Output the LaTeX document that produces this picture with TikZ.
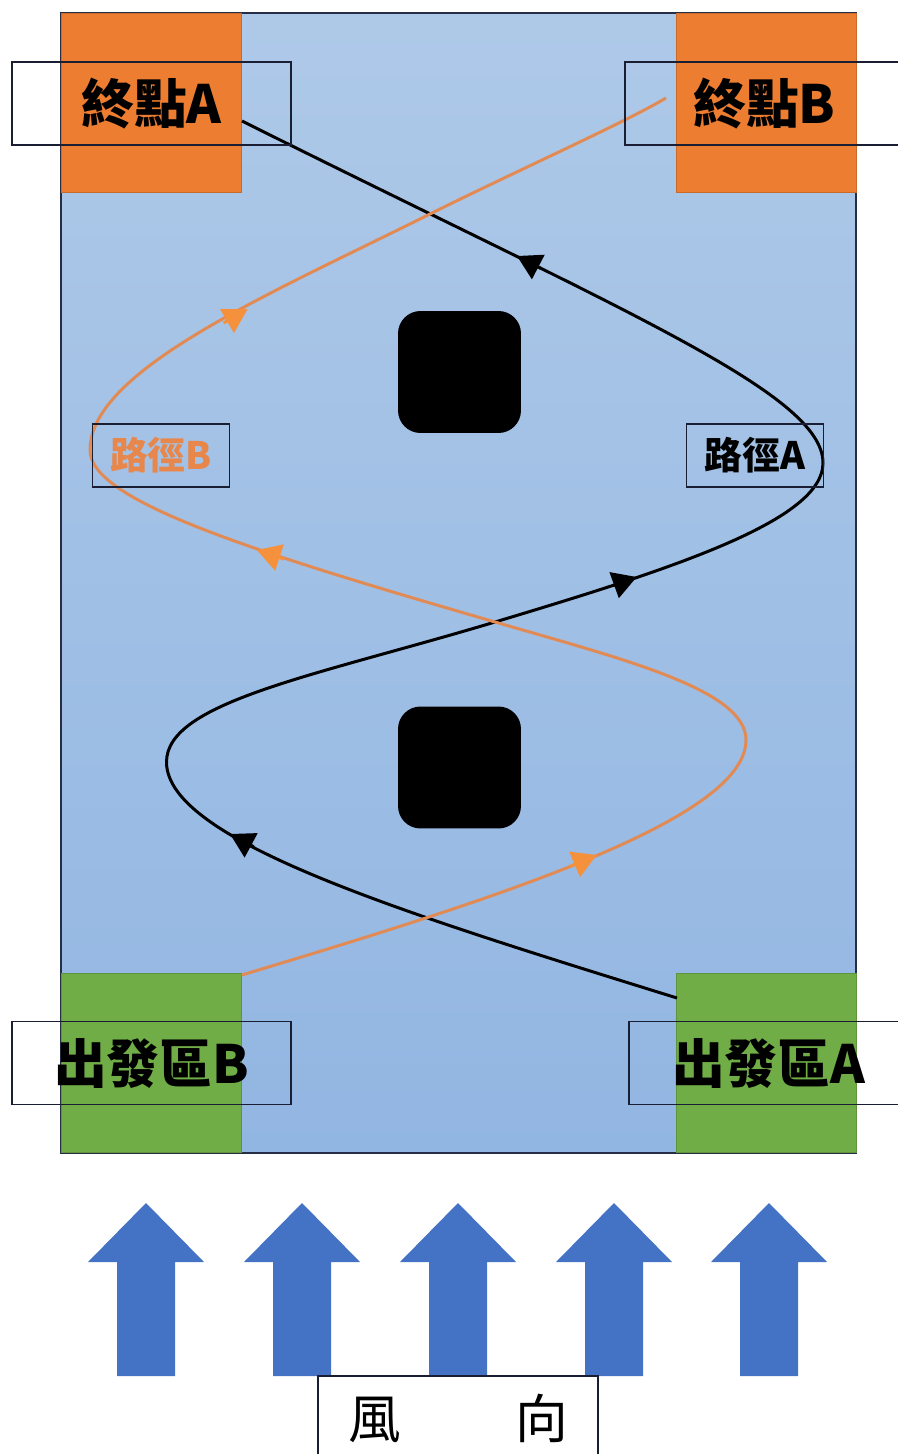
\documentclass[tikz,border=0pt]{standalone}
\usepackage{fontspec}
\newfontfamily\cjk{Noto Sans CJK TC}
\usetikzlibrary{arrows.meta}
\definecolor{fieldtop}{RGB}{174,201,232}
\definecolor{fieldbot}{RGB}{146,182,226}
\definecolor{fieldline}{RGB}{40,45,70}
\definecolor{zoneorange}{RGB}{237,125,49}
\definecolor{zonegreen}{RGB}{112,173,71}
\definecolor{pathorange}{RGB}{226,138,84}
\definecolor{arroworange}{RGB}{245,145,60}
\definecolor{textorange}{RGB}{232,135,75}
\definecolor{windblue}{RGB}{68,114,196}
\definecolor{boxline}{RGB}{25,30,50}
\begin{document}
\begin{tikzpicture}[x=0.02cm,y=-0.02cm,
  zonebox/.style={minimum width=3.6cm, minimum height=3.58cm, inner sep=0pt, draw=#1!85!black, fill=#1, line width=0.5pt},
  obst/.style={fill=black, rounded corners=0.45cm, minimum width=2.46cm, minimum height=2.44cm, inner sep=0pt},
  labelbox/.style={draw=boxline, line width=0.9pt, minimum width=5.58cm, minimum height=1.66cm, inner sep=0pt,
    font={\cjk\bfseries\fontsize{30pt}{30pt}\selectfont}},
  pathlbl/.style={draw=boxline, line width=0.9pt, minimum width=2.74cm, minimum height=1.26cm, inner sep=0pt,
    font={\cjk\bfseries\fontsize{21.5pt}{21.5pt}\selectfont}},
  windbox/.style={draw=boxline, line width=0.9pt, minimum width=5.6cm, minimum height=1.68cm, inner sep=0pt,
    font={\cjk\fontsize{30pt}{30pt}\selectfont}},
  pathAline/.style={draw=black, line width=1.7pt},
  pathBline/.style={draw=pathorange, line width=1.7pt},
  tipA/.style={draw=black, line width=1.7pt, -{Triangle[length=4.8mm,width=5.4mm]}},
  tipB/.style={draw=arroworange, line width=1.7pt, -{Triangle[length=4.8mm,width=5.4mm]}},
  windarrow/.style={fill=windblue}
]
\path[use as bounding box] (0,0) rectangle (898,1454);
\clip (0,0) rectangle (898,1454);

% field
\shade[top color=fieldtop, bottom color=fieldbot] (61,13) rectangle (856,1153);
\draw[fieldline, line width=1pt] (61,13) rectangle (856,1153);

% zones
\node[zonebox=zoneorange] (endA) at (151,102.5) {};
\node[zonebox=zoneorange] (endB) at (766,102.5) {};
\node[zonebox=zonegreen] (startB) at (151,1063) {};
\node[zonebox=zonegreen] (startA) at (766,1063) {};

% obstacles
\node[obst] (ob1) at (459.5,372) {};
\node[obst] (ob2) at (459.5,767.5) {};

% path endpoints
\coordinate (sA) at (677,998);
\coordinate (eA) at (242,121);
\coordinate (sB) at (241.8,975);
\coordinate (eB) at (666,98);

% path A (black)
\draw[pathAline] (sA) .. controls (400,912) and (166.5,840) .. (166.5,762)
  .. controls (166.5,702) and (315,676) .. (495,622)
  .. controls (675,568) and (823,520) .. (823,463)
  .. controls (823,393) and (622,311) .. (eA);

% path B (orange)
\draw[pathBline] (sB) .. controls (491.8,900) and (746,820) .. (746,740)
  .. controls (746,690) and (625,659.7) .. (495,622)
  .. controls (245,549.5) and (90,500) .. (90,450)
  .. controls (90,370) and (270,294) .. (430,214)
  .. controls (510,174) and (626,122) .. (eB);

% direction arrowheads
\draw[tipA] (253.7,846.7) -- (230,834);
\draw[tipA] (612.3,585.8) -- (636.7,577);
\draw[tipA] (540.9,268.4) -- (517,256);
\draw[tipB] (570.1,866.3) -- (596.7,855);
\draw[tipB] (284.2,559.1) -- (256.7,550);
\draw[tipB] (223.6,323) -- (247.7,309);

% labels
\node[labelbox] (lEndA) at (151.5,103.5) {終點A};
\node[labelbox] (lEndB) at (764.5,103.5) {終點B};
\node[labelbox] (lStartB) at (151.5,1063) {出發區B};
\node[labelbox] (lStartA) at (768.5,1063) {出發區A};
\node[pathlbl, text=textorange] (lPathB) at (161,455.5) {路徑B};
\node[pathlbl] (lPathA) at (755,455.5) {路徑A};

% wind arrows
\foreach \c in {146,302,458,614,769} {
  \fill[windarrow] (\c,1203) -- (\c+58,1262) -- (\c+29,1262) -- (\c+29,1376)
    -- (\c-29,1376) -- (\c-29,1262) -- (\c-58,1262) -- cycle;
}
\node[windbox] (wind) at (458,1418) {風\hspace{2.17em}向};
\end{tikzpicture}
\end{document}
